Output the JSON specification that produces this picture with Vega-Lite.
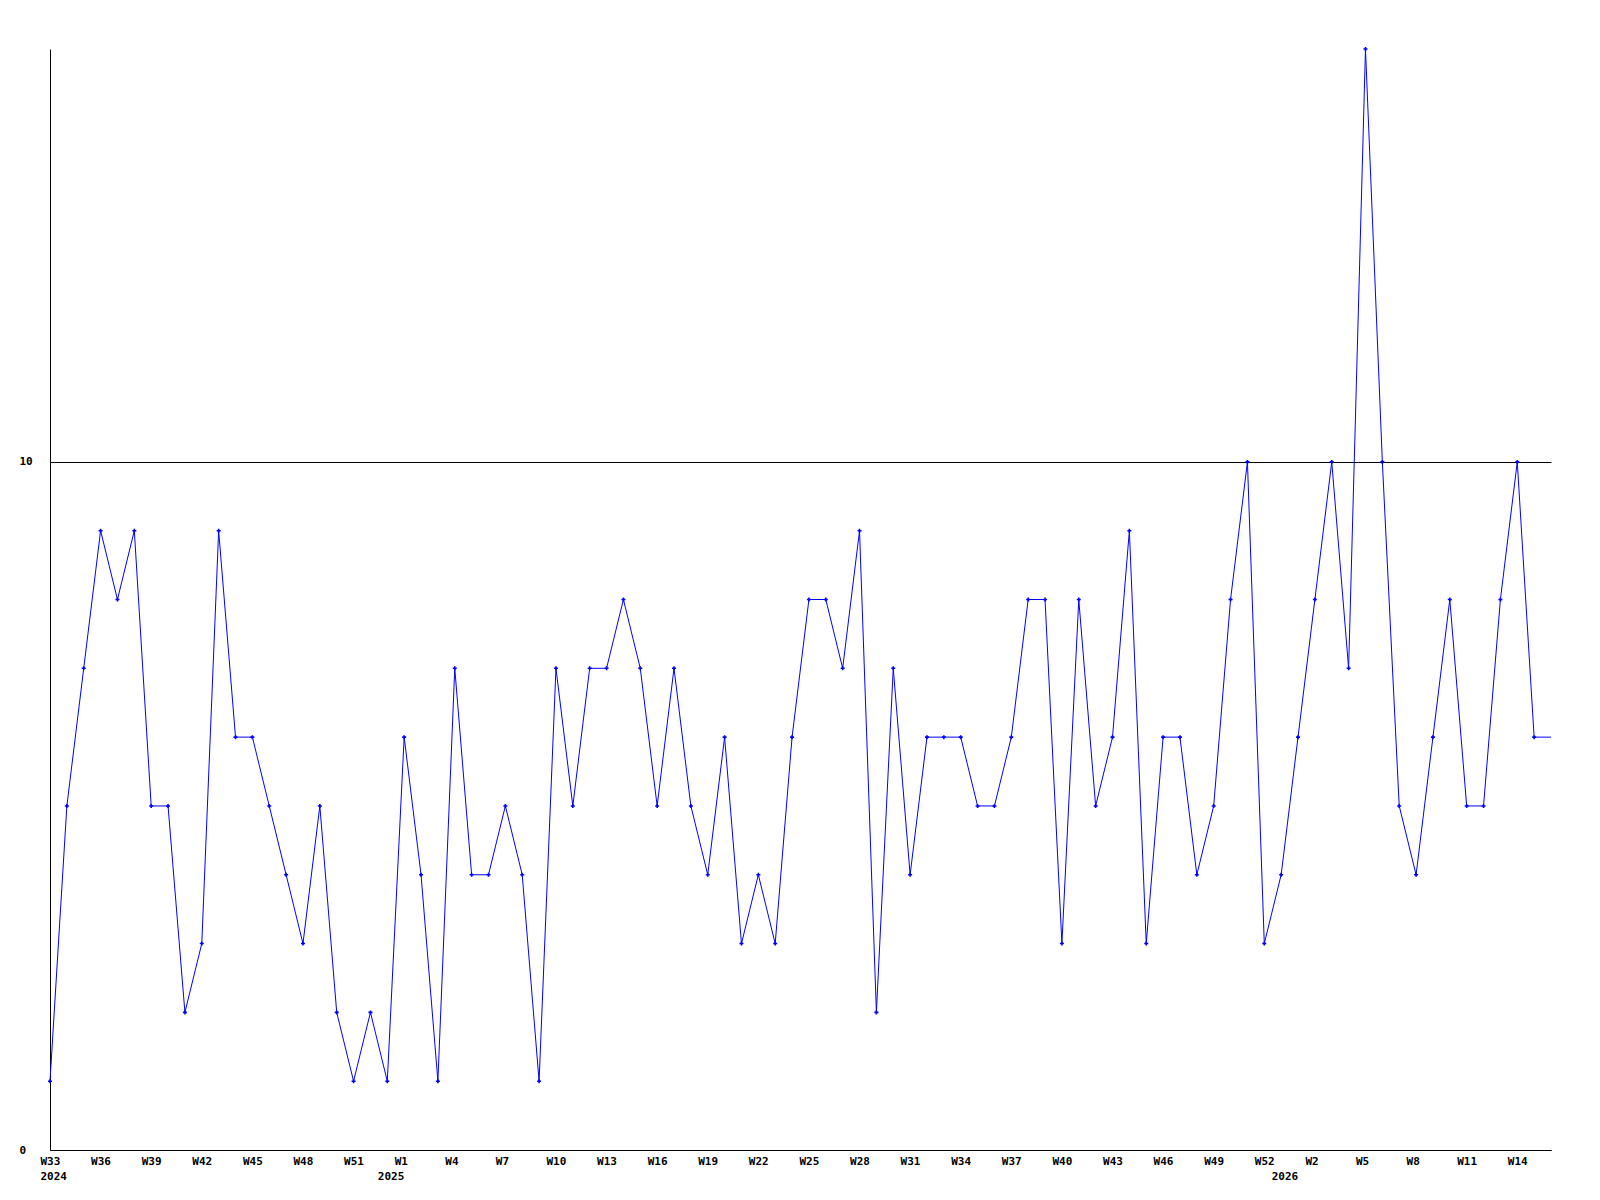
{
  "$schema": "https://vega.github.io/schema/vega-lite/v6.json",
  "width": 1501,
  "height": 1101,
  "autosize": {"type": "none"},
  "padding": {"left": 50, "top": 49, "right": 49, "bottom": 50},
  "background": "white",
  "config": {
    "view": {"stroke": null},
    "axis": {"labelFont": "DejaVu Sans Mono", "labelFontSize": 11, "labelFontWeight": "bold", "labelColor": "black", "domainColor": "black", "domainWidth": 1}
  },
  "data": {
    "values": [
      {"wk": "2024 W33", "v": 1}, {"wk": "2024 W34", "v": 5}, {"wk": "2024 W35", "v": 7}, {"wk": "2024 W36", "v": 9},
      {"wk": "2024 W37", "v": 8}, {"wk": "2024 W38", "v": 9}, {"wk": "2024 W39", "v": 5}, {"wk": "2024 W40", "v": 5},
      {"wk": "2024 W41", "v": 2}, {"wk": "2024 W42", "v": 3}, {"wk": "2024 W43", "v": 9}, {"wk": "2024 W44", "v": 6},
      {"wk": "2024 W45", "v": 6}, {"wk": "2024 W46", "v": 5}, {"wk": "2024 W47", "v": 4}, {"wk": "2024 W48", "v": 3},
      {"wk": "2024 W49", "v": 5}, {"wk": "2024 W50", "v": 2}, {"wk": "2024 W51", "v": 1}, {"wk": "2024 W52", "v": 2},
      {"wk": "2025 W0", "v": 1}, {"wk": "2025 W1", "v": 6}, {"wk": "2025 W2", "v": 4}, {"wk": "2025 W3", "v": 1},
      {"wk": "2025 W4", "v": 7}, {"wk": "2025 W5", "v": 4}, {"wk": "2025 W6", "v": 4}, {"wk": "2025 W7", "v": 5},
      {"wk": "2025 W8", "v": 4}, {"wk": "2025 W9", "v": 1}, {"wk": "2025 W10", "v": 7}, {"wk": "2025 W11", "v": 5},
      {"wk": "2025 W12", "v": 7}, {"wk": "2025 W13", "v": 7}, {"wk": "2025 W14", "v": 8}, {"wk": "2025 W15", "v": 7},
      {"wk": "2025 W16", "v": 5}, {"wk": "2025 W17", "v": 7}, {"wk": "2025 W18", "v": 5}, {"wk": "2025 W19", "v": 4},
      {"wk": "2025 W20", "v": 6}, {"wk": "2025 W21", "v": 3}, {"wk": "2025 W22", "v": 4}, {"wk": "2025 W23", "v": 3},
      {"wk": "2025 W24", "v": 6}, {"wk": "2025 W25", "v": 8}, {"wk": "2025 W26", "v": 8}, {"wk": "2025 W27", "v": 7},
      {"wk": "2025 W28", "v": 9}, {"wk": "2025 W29", "v": 2}, {"wk": "2025 W30", "v": 7}, {"wk": "2025 W31", "v": 4},
      {"wk": "2025 W32", "v": 6}, {"wk": "2025 W33", "v": 6}, {"wk": "2025 W34", "v": 6}, {"wk": "2025 W35", "v": 5},
      {"wk": "2025 W36", "v": 5}, {"wk": "2025 W37", "v": 6}, {"wk": "2025 W38", "v": 8}, {"wk": "2025 W39", "v": 8},
      {"wk": "2025 W40", "v": 3}, {"wk": "2025 W41", "v": 8}, {"wk": "2025 W42", "v": 5}, {"wk": "2025 W43", "v": 6},
      {"wk": "2025 W44", "v": 9}, {"wk": "2025 W45", "v": 3}, {"wk": "2025 W46", "v": 6}, {"wk": "2025 W47", "v": 6},
      {"wk": "2025 W48", "v": 4}, {"wk": "2025 W49", "v": 5}, {"wk": "2025 W50", "v": 8}, {"wk": "2025 W51", "v": 10},
      {"wk": "2025 W52", "v": 3},
      {"wk": "2026 W0", "v": 4}, {"wk": "2026 W1", "v": 6}, {"wk": "2026 W2", "v": 8}, {"wk": "2026 W3", "v": 10},
      {"wk": "2026 W4", "v": 7}, {"wk": "2026 W5", "v": 16}, {"wk": "2026 W6", "v": 10}, {"wk": "2026 W7", "v": 5},
      {"wk": "2026 W8", "v": 4}, {"wk": "2026 W9", "v": 6}, {"wk": "2026 W10", "v": 8}, {"wk": "2026 W11", "v": 5},
      {"wk": "2026 W12", "v": 5}, {"wk": "2026 W13", "v": 8}, {"wk": "2026 W14", "v": 10}, {"wk": "2026 W15", "v": 6},
      {"wk": "2026 W16", "v": 6}
    ]
  },
  "encoding": {
    "x": {
      "field": "wk", "type": "ordinal", "sort": null,
      "scale": {"type": "point", "padding": 0},
      "axis": {
        "title": null, "ticks": false, "tickSize": 0, "grid": false,
        "labelAngle": 0, "labelAlign": "left", "labelOffset": -10, "labelBaseline": "top",
        "labelPadding": 5, "labelLineHeight": 15, "labelOverlap": false, "labelBound": false, "labelFlush": false,
        "values": ["2024 W33", "2024 W36", "2024 W39", "2024 W42", "2024 W45", "2024 W48", "2024 W51",
          "2025 W0", "2025 W1", "2025 W4", "2025 W7", "2025 W10", "2025 W13", "2025 W16", "2025 W19", "2025 W22",
          "2025 W25", "2025 W28", "2025 W31", "2025 W34", "2025 W37", "2025 W40", "2025 W43", "2025 W46", "2025 W49", "2025 W52",
          "2026 W0", "2026 W2", "2026 W5", "2026 W8", "2026 W11", "2026 W14"],
        "labelExpr": "substring(datum.value, 5) == 'W0' ? ['', substring(datum.value, 0, 4)] : (datum.value == '2024 W33' ? ['W33', '2024'] : substring(datum.value, 5))"
      }
    },
    "y": {
      "field": "v", "type": "quantitative",
      "scale": {"domain": [0, 16], "nice": false, "zero": true},
      "axis": {
        "title": null, "ticks": false, "tickSize": 0, "values": [0, 10],
        "grid": true, "gridColor": "black", "gridOpacity": 1, "gridWidth": 1,
        "labelAlign": "left", "labelPadding": 31, "labelBaseline": "middle"
      }
    }
  },
  "layer": [
    {"mark": {"type": "line", "color": "#0000ff", "strokeWidth": 1, "interpolate": "linear"}},
    {
      "transform": [{"filter": "datum.wk != '2026 W16'"}],
      "mark": {"type": "point", "shape": "cross", "filled": true, "color": "#0000ff", "size": 16, "opacity": 1}
    }
  ]
}
